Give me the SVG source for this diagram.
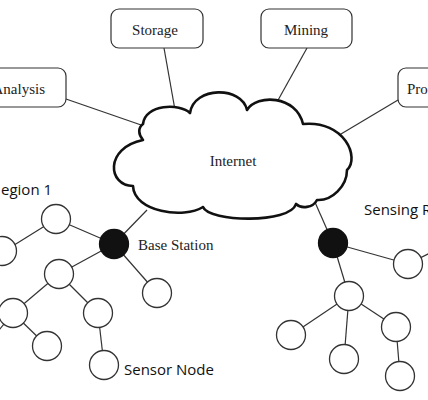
<svg xmlns="http://www.w3.org/2000/svg" width="428" height="400" viewBox="0 0 428 400">
<style>
.box{fill:#fff;stroke:#333;stroke-width:1.2}
.lbl{font-family:"Liberation Serif",serif;font-size:15px;fill:#222}
.sans{font-family:"Open Sans",sans-serif;font-size:15px;fill:#111}
.edge{stroke:#333;stroke-width:1.2;fill:none}
.node{fill:#fff;stroke:#333;stroke-width:1.3}
.bs{fill:#111;stroke:#111;stroke-width:1.3}
.cloud{fill:#fff;stroke:#111;stroke-width:2.6;stroke-linejoin:round}
</style>
<rect width="428" height="400" fill="#fff"/>
<g id="connectors">
<line class="edge" x1="164" y1="48" x2="175" y2="110"/>
<line class="edge" x1="66" y1="99" x2="144" y2="126"/>
<line class="edge" x1="307" y1="48" x2="277" y2="102"/>
<line class="edge" x1="398" y1="100" x2="341" y2="134"/>
<line class="edge" x1="114" y1="244" x2="147" y2="210"/>
<line class="edge" x1="333" y1="243" x2="314" y2="200"/>
<line class="edge" x1="114" y1="244" x2="56" y2="219"/>
<line class="edge" x1="56" y1="219" x2="3" y2="252"/>
<line class="edge" x1="114" y1="244" x2="59" y2="274"/>
<line class="edge" x1="114" y1="244" x2="157" y2="293"/>
<line class="edge" x1="59" y1="274" x2="13" y2="313"/>
<line class="edge" x1="59" y1="274" x2="98" y2="313"/>
<line class="edge" x1="13" y1="313" x2="47" y2="346"/>
<line class="edge" x1="13" y1="313" x2="-5" y2="335"/>
<line class="edge" x1="98" y1="313" x2="104" y2="365"/>
<line class="edge" x1="333" y1="243" x2="408" y2="264"/>
<line class="edge" x1="408" y1="264" x2="432" y2="252"/>
<line class="edge" x1="333" y1="243" x2="349" y2="296"/>
<line class="edge" x1="349" y1="296" x2="291" y2="335"/>
<line class="edge" x1="349" y1="296" x2="344" y2="359"/>
<line class="edge" x1="349" y1="296" x2="396" y2="327"/>
<line class="edge" x1="396" y1="327" x2="400" y2="376"/>
</g>
<g id="storage"><rect class="box" x="111" y="9" width="92" height="39" rx="8"/><text class="lbl" x="155" y="35" text-anchor="middle">Storage</text></g>
<g id="mining"><rect class="box" x="261" y="9" width="91" height="39" rx="8"/><text class="lbl" x="306" y="35" text-anchor="middle">Mining</text></g>
<g id="analysis"><rect class="box" x="-30" y="68" width="96" height="39" rx="8"/><text class="lbl" x="45" y="94" text-anchor="end">Analysis</text></g>
<g id="processing"><rect class="box" x="398" y="68" width="60" height="39" rx="8"/><text class="lbl" x="407" y="94">Pro</text></g>
<g id="internet">
<path class="cloud" d="M133,186 C108,186 104,148 143,140 C138,134 138,128 143,124 C145,104 180,103 190,113 C194,86 242,86 247,110 C257,94 296,95 303,124 C345,120 360,158 347,170 C347,186 332,201 317,200 C313,208 301,209 296,204 C290,224 209,222 203,207 C184,219 134,212 133,186 Z"/>
<text class="lbl" x="233" y="166" text-anchor="middle">Internet</text>
</g>
<g id="base-station-1"><circle class="bs" cx="114" cy="244" r="14.5"/><text class="lbl" x="138" y="250">Base Station</text></g>
<g id="base-station-2"><circle class="bs" cx="333" cy="243" r="14.5"/></g>
<g id="n1"><circle class="node" cx="56" cy="219" r="14.5"/></g>
<g id="n2"><circle class="node" cx="2" cy="251" r="14.5"/></g>
<g id="n3"><circle class="node" cx="59" cy="274" r="14.5"/></g>
<g id="n4"><circle class="node" cx="13" cy="313" r="14.5"/></g>
<g id="n5"><circle class="node" cx="98" cy="313" r="14.5"/></g>
<g id="n6"><circle class="node" cx="47" cy="346" r="14.5"/></g>
<g id="n7"><circle class="node" cx="104" cy="365" r="14.5"/></g>
<g id="n8"><circle class="node" cx="157" cy="293" r="14.5"/></g>
<g id="n9"><circle class="node" cx="408" cy="264" r="14.5"/></g>
<g id="n10"><circle class="node" cx="349" cy="296" r="14.5"/></g>
<g id="n11"><circle class="node" cx="291" cy="335" r="14.5"/></g>
<g id="n12"><circle class="node" cx="344" cy="359" r="14.5"/></g>
<g id="n13"><circle class="node" cx="396" cy="327" r="14.5"/></g>
<g id="n14"><circle class="node" cx="400" cy="376" r="14.5"/></g>
<g id="labels">
<text class="sans" x="1" y="195">egion 1</text>
<text class="sans" x="364" y="215">Sensing R</text>
<text class="sans" x="124" y="375">Sensor Node</text>
</g>
</svg>
